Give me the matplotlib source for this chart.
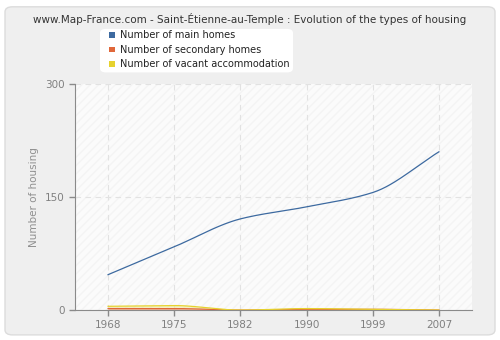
import matplotlib
matplotlib.use("Agg")
import matplotlib.pyplot as plt
from matplotlib.patches import FancyBboxPatch
import numpy as np

years = ["1968", "1975", "1982", "1990", "1999", "2007"]
main_homes = [47, 84, 121, 137, 156, 210]
secondary_homes = [2, 2, 0, 1, 1, 0]
vacant = [5, 6, 0, 2, 1, 0]


def smooth(y, n=30):
    # monotone cubic (Fritsch-Carlson) through the category points
    y = np.asarray(y, float)
    x = np.arange(len(y), dtype=float)
    d = np.diff(y)
    m = np.zeros_like(y)
    m[0], m[-1] = d[0], d[-1]
    for i in range(1, len(y) - 1):
        m[i] = 0 if d[i - 1] * d[i] <= 0 else 2 / (1 / d[i - 1] + 1 / d[i])
    xs, ys = [], []
    for i in range(len(y) - 1):
        t = np.linspace(0, 1, n, endpoint=False)
        h00 = 2 * t**3 - 3 * t**2 + 1
        h10 = t**3 - 2 * t**2 + t
        h01 = -2 * t**3 + 3 * t**2
        h11 = t**3 - t**2
        xs.append(x[i] + t)
        ys.append(h00 * y[i] + h10 * m[i] + h01 * y[i + 1] + h11 * m[i + 1])
    xs.append([x[-1]])
    ys.append([y[-1]])
    return np.concatenate(xs), np.concatenate(ys)


fig = plt.figure(figsize=(5, 3.4), dpi=100, facecolor="white")
bg = FancyBboxPatch((0.01, 0.015), 0.98, 0.965, boxstyle="round,pad=0,rounding_size=0.015",
                    transform=fig.transFigure, facecolor="#efefef",
                    edgecolor="#dcdcdc", linewidth=1, zorder=-10)
fig.patches.append(bg)
ax = fig.add_axes([0.15, 0.088, 0.794, 0.665])
ax.set_facecolor("#fbfbfb")
ax.patch.set_hatch("////")
ax.patch.set_edgecolor("#f4f4f4")
ax.patch.set_linewidth(0)

x = np.arange(len(years))
xs, ys = smooth(main_homes)
ax.plot(xs, ys, color="#3d6aa0", linewidth=0.9, zorder=3)
xs, ys = smooth(secondary_homes)
ax.fill_between(xs, 0, ys, color="#f2a484", alpha=0.7, linewidth=0, zorder=2)
ax.plot(xs, ys, color="#e0673a", linewidth=0.9, zorder=3)
xs, ys = smooth(vacant)
ax.fill_between(xs, 0, ys, color="#f0e890", alpha=0.5, linewidth=0, zorder=1)
ax.plot(xs, ys, color="#e6d22e", linewidth=0.9, zorder=3)

ax.set_xlim(-0.5, 5.5)
ax.set_ylim(0, 300)
ax.set_xticks(x)
ax.set_xticklabels(years)
ax.set_yticks([0, 150, 300])
ax.grid(True, color="#e2e2e2", linestyle=(0, (5, 4)), linewidth=0.8)
ax.set_axisbelow(True)
for s in ("top", "right"):
    ax.spines[s].set_visible(False)
for s in ("left", "bottom"):
    ax.spines[s].set_color("#8a8a8a")
ax.tick_params(colors="#8a8a8a", labelcolor="#808080", labelsize=7.5, length=4, width=1)
ax.set_ylabel("Number of housing", color="#909090", fontsize=7.5)

fig.text(0.5, 0.945, "www.Map-France.com - Saint-Étienne-au-Temple : Evolution of the types of housing",
         ha="center", va="center", fontsize=7.5, color="#333333")

fig.patches.append(FancyBboxPatch((0.2, 0.787), 0.386, 0.128, boxstyle="round,pad=0,rounding_size=0.012",
                                  transform=fig.transFigure, facecolor="white", edgecolor="none", zorder=-5))
labels = ["Number of main homes", "Number of secondary homes", "Number of vacant accommodation"]
colors = ["#3d6aa0", "#e0673a", "#e6d22e"]
for i, (lab, c) in enumerate(zip(labels, colors)):
    yy = 0.897 - i * 0.043
    fig.patches.append(plt.Rectangle((0.218, yy - 0.008), 0.011, 0.017, transform=fig.transFigure,
                                     facecolor=c, edgecolor="none"))
    fig.text(0.241, yy, lab, fontsize=7, va="center", color="#222222")

fig.savefig("out.png", dpi=100, facecolor="white")
